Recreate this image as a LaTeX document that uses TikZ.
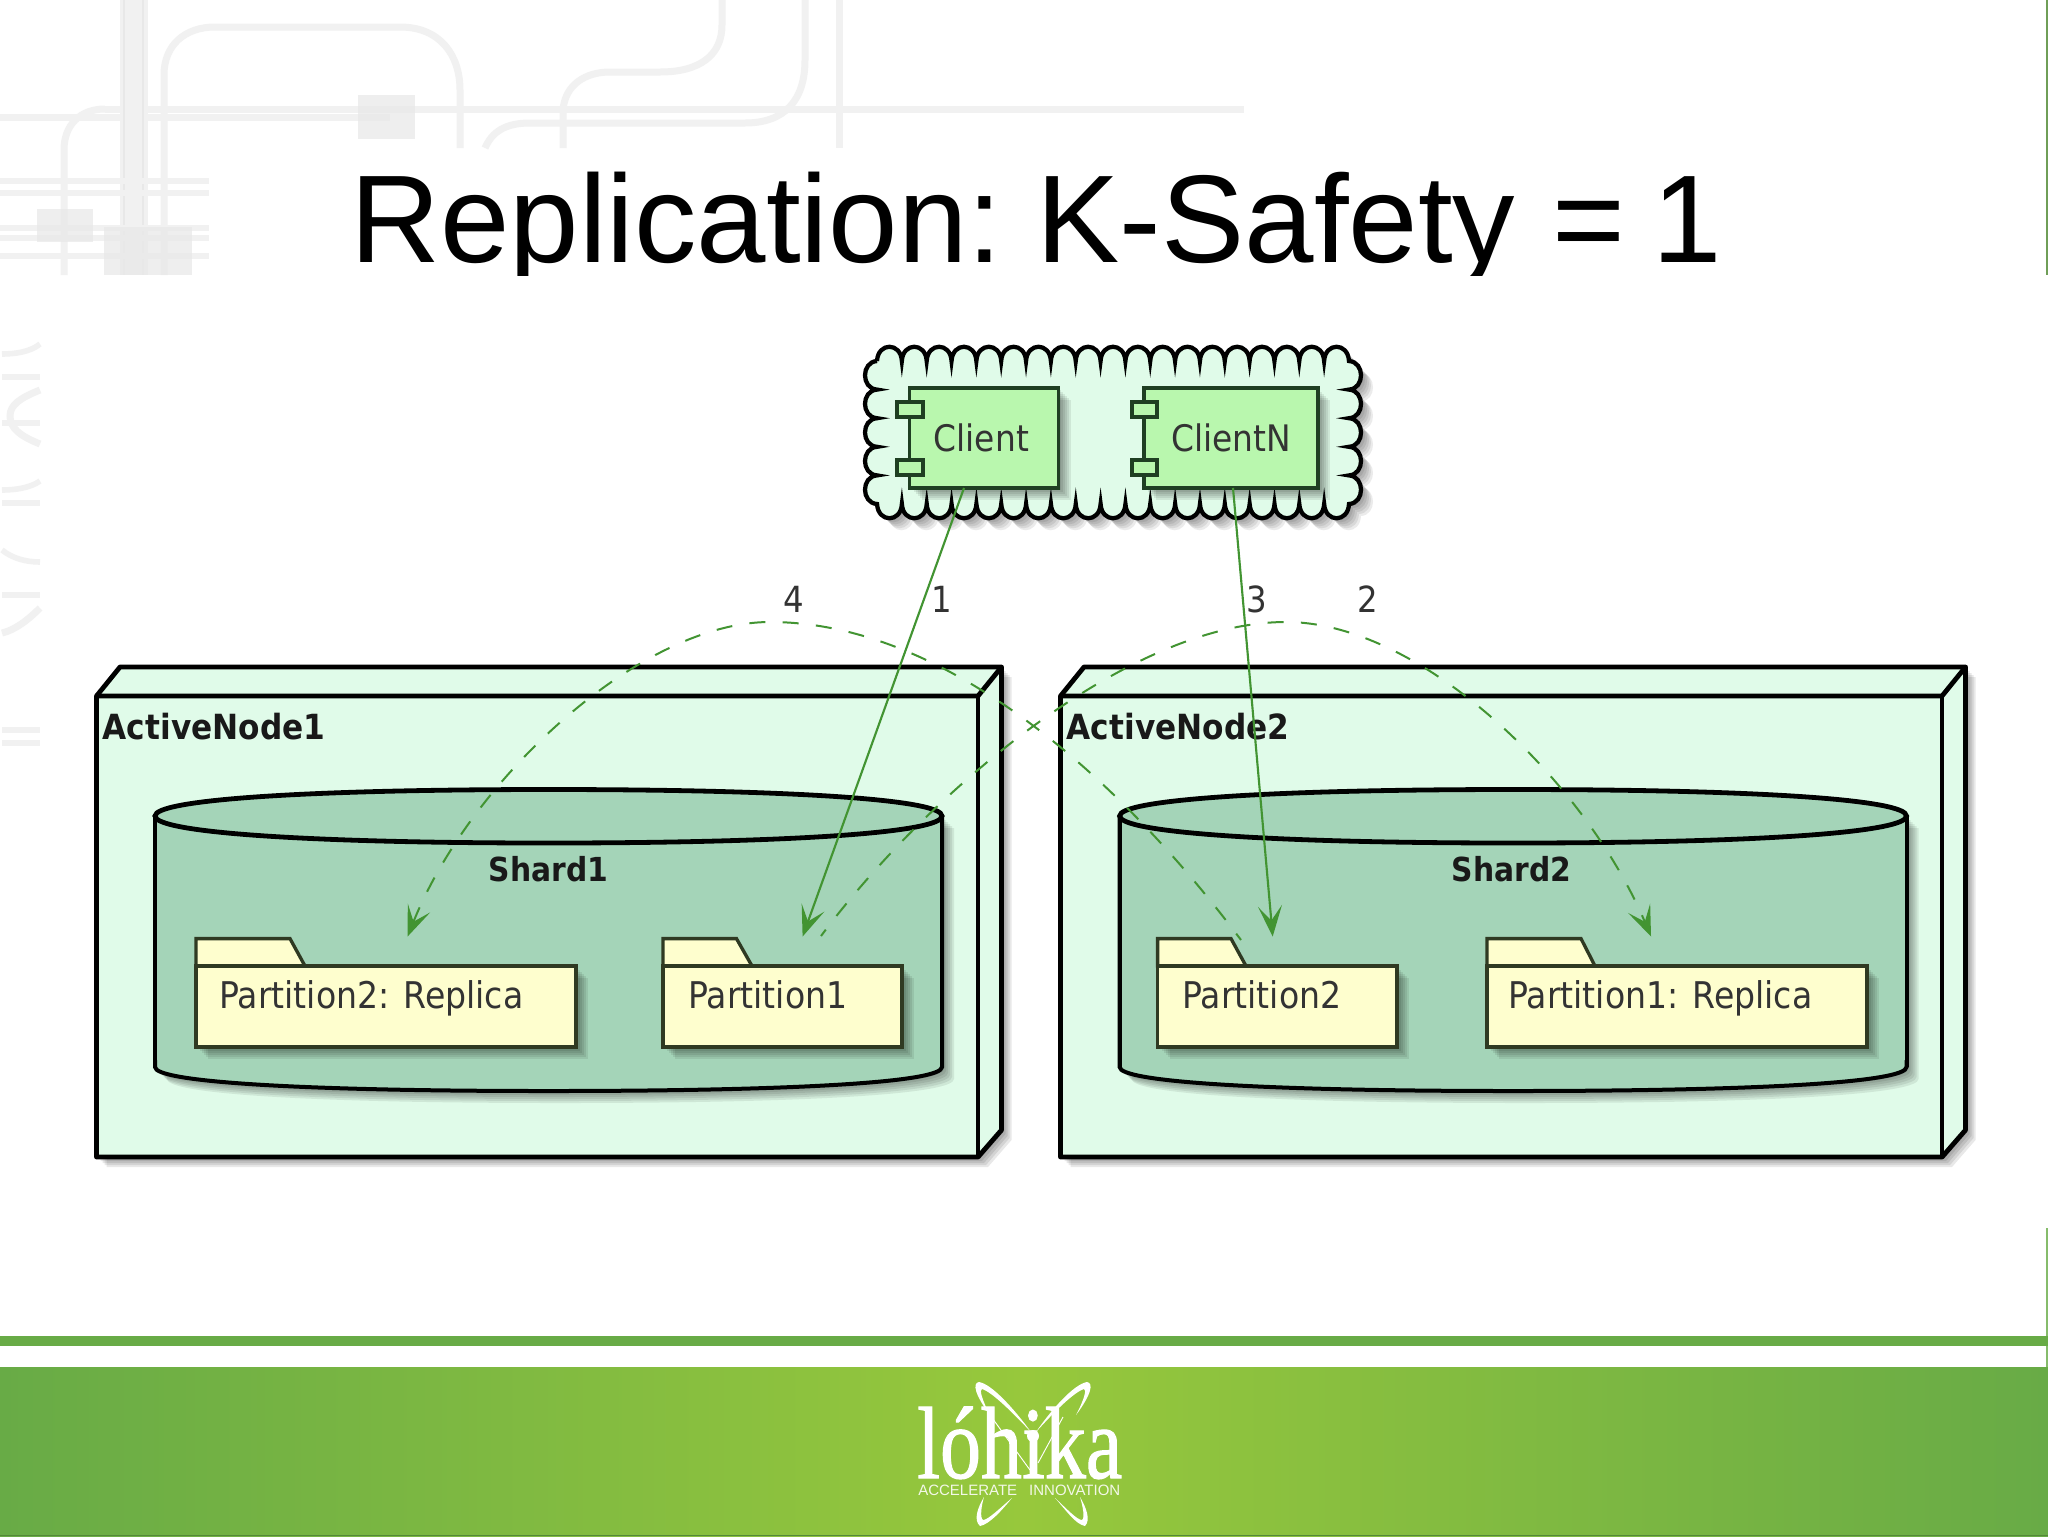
\documentclass[tikz,border=0pt]{standalone}
\usepackage{fontspec}
\usetikzlibrary{arrows.meta}
\setmainfont{Liberation Sans}
\newfontfamily\umlf[FakeStretch=0.9]{DejaVu Sans}
\newfontfamily\logof[FakeBold=1.2]{Liberation Serif}
\definecolor{wm}{HTML}{F1F1F1}
\definecolor{wmd}{HTML}{E8E8E8}
\definecolor{nodef}{HTML}{E0FBE9}
\definecolor{cylf}{HTML}{A4D4B8}
\definecolor{foldf}{HTML}{FEFECE}
\definecolor{folds}{HTML}{2F3A22}
\definecolor{compf}{HTML}{B9F7AE}
\definecolor{comps}{HTML}{1F3F22}
\definecolor{arrowc}{HTML}{429432}
\definecolor{bandl}{HTML}{68AB46}
\definecolor{bandm}{HTML}{97C83C}
\tikzset{
  wml/.style={draw=wm,line width=5.25pt},
  wmt/.style={draw=wm,line width=4.2pt},
  wmb/.style={fill=wmd,opacity=.7},
  box3d/.style={draw=black,fill=nodef,line width=3.6pt,line join=round},
  cyl/.style={draw=black,fill=cylf,line width=3pt},
  fold/.style={draw=folds,fill=foldf,line width=2.5pt,line join=miter},
  compbox/.style={draw=comps,fill=compf,line width=2.6pt,minimum width=111.75pt,minimum height=75pt,inner sep=0pt},
  compboxn/.style={compbox,minimum width=130.5pt},
  port/.style={draw=comps,fill=compf,line width=2.5pt},
  umlt/.style={inner sep=0pt,anchor=base west,text=black!80,font=\umlf\fontsize{27.6}{30}\selectfont},
  umlb/.style={inner sep=0pt,text=black!90,font=\umlf\bfseries\fontsize{24.8}{28}\selectfont},
  numl/.style={inner sep=0pt,text=black!80,font=\umlf\fontsize{27}{30}\selectfont},
  conn/.style={draw=arrowc,line width=1.6pt,-{Stealth[length=23pt,width=18pt,inset=11pt]}},
  dconn/.style={conn,line width=1.5pt,dash pattern=on 12pt off 13pt,dash phase=6pt}
}
\newcommand\shad[1]{\foreach \s in {2,4,6,8,10,12}{\fill[black,opacity=.08,shift={(\s,\s)}] #1;}}
\def\cloudp{(877,361)
 \foreach \i in {1,...,19}{ .. controls ({877+(\i-1)*24.84+1},342) and ({877+\i*24.84-1},342) .. ({877+\i*24.84},361)}
 \foreach \i in {1,...,5}{ .. controls (1365,{361+(\i-1)*28.6+1}) and (1365,{361+\i*28.6-1}) .. (1349,{361+\i*28.6})}
 \foreach \i in {1,...,19}{ .. controls ({1349-(\i-1)*24.84-1},523) and ({1349-\i*24.84+1},523) .. ({1349-\i*24.84},504)}
 \foreach \i in {1,...,5}{ .. controls (861,{504-(\i-1)*28.6-1}) and (861,{504-\i*28.6+1}) .. (877,{504-\i*28.6})}
 -- cycle}
\begin{document}
\begin{tikzpicture}[x=0.75pt,y=-0.75pt]
\useasboundingbox (0,0) rectangle (2048,1536);
\fill[white] (0,0) rectangle (2048,1536);

% watermark
\draw[wml] (0,117) -- (390,117);
\draw[wml] (105,109) -- (1244,109);
\fill[wm] (120,0) rectangle (148,275);
\draw[wmd,line width=1.5pt] (124,0) -- (124,275);
\draw[wmd,line width=1.5pt] (143,0) -- (143,275);
\draw[wml] (164,275) -- (164,75) .. controls (164,45) and (185,27) .. (215,27) -- (400,27) .. controls (440,27) and (460,55) .. (460,90) -- (460,148);
\draw[wml] (64,275) -- (64,150) .. controls (64,125) and (80,109) .. (105,109);
\draw[wml] (485,148) .. controls (492,132) and (505,123) .. (530,123) -- (745,123) .. controls (785,123) and (805,100) .. (805,60) -- (805,0);
\draw[wml] (563,148) -- (563,110) .. controls (565,85) and (585,72) .. (610,72) -- (660,72) .. controls (700,72) and (722,55) .. (722,25) -- (722,0);
\draw[wml] (839,0) -- (839,148);
\fill[wmb] (358,95) rectangle (415,139);
\foreach \yy in {181,193,228,238,256}{\draw[wmt] (0,\yy) -- (209,\yy);}
\fill[wmb] (37,209) rectangle (93,242);
\fill[wmb] (104,227) rectangle (192,275);
% left watermark
\draw[wmt] (2,354) .. controls (15,354) and (30,352) .. (40,344);
\draw[wmt] (2,377) -- (40,377);
\draw[wml] (40,390) .. controls (20,398) and (10,405) .. (10,416) .. controls (10,428) and (20,436) .. (40,444);
\draw[wmt] (2,423) -- (40,423);
\draw[wmt] (2,490) .. controls (15,490) and (30,488) .. (40,481);
\draw[wmt] (2,503) -- (40,503);
\draw[wmt] (2,550) .. controls (12,558) and (25,562) .. (40,562);
\draw[wmt] (2,595) -- (40,595);
\draw[wml] (2,633) .. controls (15,630) and (28,620) .. (40,608);
\draw[wmt] (2,730) -- (40,730);
\draw[wmt] (2,743) -- (40,743);

% title
\begin{scope}
\clip (0,0) rectangle (2048,275);
\node[inner sep=0pt,anchor=base,font=\fontsize{93.6}{100}\selectfont] (title) at (1036,262) {Replication:\hspace{26pt}K-Safety\hspace{28pt}=\hspace{20pt}1};
\end{scope}

% right edge
\draw[draw=bandl!70!gray,line width=.9pt] (2047,0) -- (2047,275);
\draw[draw=bandl!80,line width=.9pt] (2047,1228) -- (2047,1536);

% band
\fill[bandl] (0,1336) rectangle (2048,1346);
\shade[left color=bandl,right color=bandm,shading angle=90] (0,1367) rectangle (1024,1536);
\shade[left color=bandm,right color=bandl,shading angle=90] (1024,1367) rectangle (2048,1536);
\draw[draw=bandl!80!black,line width=.75pt] (0,1535.5) -- (2048,1535.5);

% logo
\fill[white] (990,1415) .. controls (975,1395) and (972,1383) .. (979,1382) .. controls (992,1384) and (1015,1410) .. (1031,1432) .. controls (1012,1412) and (992,1392) .. (982,1389) .. controls (979,1389) and (982,1400) .. cycle;
\fill[white] (1076,1415) .. controls (1091,1395) and (1094,1383) .. (1087,1382) .. controls (1074,1384) and (1051,1410) .. (1036,1432) .. controls (1054,1412) and (1074,1392) .. (1084,1389) .. controls (1087,1389) and (1084,1400) .. cycle;
\draw[white,line width=.7pt] (990,1415) -- (1030,1470);
\draw[white,line width=.7pt] (1038,1463) -- (1063,1417);
\fill[white] (984,1497) .. controls (978,1507) and (973,1520) .. (980,1526) .. controls (990,1524) and (1002,1510) .. (1012,1498) .. controls (1000,1508) and (988,1520) .. (983,1520) .. controls (980,1518) and (981,1507) .. cycle;
\fill[white] (1080,1497) .. controls (1086,1507) and (1091,1520) .. (1085,1526) .. controls (1075,1524) and (1066,1510) .. (1055,1498) .. controls (1066,1508) and (1077,1520) .. (1082,1520) .. controls (1085,1518) and (1083,1507) .. cycle;
\node[inner sep=0pt,anchor=base west,text=white,font=\logof\fontsize{61.5}{66}\selectfont] (logo) at (917,1478) {\scalebox{1}[1.25]{lóhika}};
\fill[white] (1033,1436) circle[radius=6];
\node[inner sep=0pt,anchor=base west,text=white!88!bandm,font=\fontsize{11.25}{13}\selectfont] (tagline) at (918,1495) {ACCELERATE\hspace{9pt}INNOVATION};

% cloud and clients
\shad{\cloudp}
\draw[draw=black,fill=nodef,line width=3.2pt] \cloudp;
\shad{(909.6,388) rectangle (1058.6,488)}
\shad{(1144,388) rectangle (1318,488)}
\node[compbox,font=\umlf\fontsize{27.4}{30}\selectfont] (client) at (984,438) {\hspace*{-4pt}\textcolor{black!80}{Client}};
\node[compboxn,font=\umlf\fontsize{27.4}{30}\selectfont] (clientn) at (1231,438) {\textcolor{black!80}{ClientN}};
\draw[port] (897,402) rectangle (923,417);
\draw[port] (897,460) rectangle (923,475);
\draw[port] (1132,402) rectangle (1157,417);
\draw[port] (1132,460) rectangle (1157,475);

% active nodes
\foreach \ox/\nm/\lb in {0/a/1,964/b/2}{
  \begin{scope}[xshift=\ox*0.75pt]
    \foreach \s in {2,4,6,8,10}{\fill[black,opacity=.09,shift={(\s,\s)}] (96.5,696) -- (120,667) -- (1001.5,667) -- (1001.5,1130) -- (978,1157) -- (96.5,1157) -- cycle;}
    \draw[box3d] (96.5,696) -- (120,667) -- (1001.5,667) -- (1001.5,1130) -- (978,1157) -- (96.5,1157) -- cycle;
    \draw[box3d,fill=none] (96.5,696) -- (978,696) -- (1001.5,667);
    \draw[box3d,fill=none] (978,696) -- (978,1157);
    \node[umlb,anchor=base west,font=\umlf\bfseries\fontsize{26}{28}\selectfont] (activenode\lb) at (102.5,739) {ActiveNode\lb};
  \end{scope}
}

% cylinders
\foreach \ox/\cl/\cr/\lb/\sx in {0/155/942/1/548.5,964/155.6/942.5/2/547.5}{
  \begin{scope}[xshift=\ox*0.75pt]
    \shad{(\cl,816) -- (\cl,1067) .. controls (\cl,1082) and (300,1091) .. ({(\cl+\cr)/2},1091) .. controls (800,1091) and (\cr,1082) .. (\cr,1067) -- (\cr,816) -- cycle}
    \draw[cyl] (\cl,816) -- (\cl,1067) .. controls (\cl,1082) and (300,1091) .. ({(\cl+\cr)/2},1091) .. controls (800,1091) and (\cr,1082) .. (\cr,1067) -- (\cr,816);
    \fill[cylf] (\cl,816) .. controls (\cl,800) and (300,789.5) .. ({(\cl+\cr)/2},789.5) .. controls (800,789.5) and (\cr,800) .. (\cr,816) -- (\cr,1060) -- (\cl,1060) -- cycle;
    \draw[cyl,line width=3.6pt] (\cl,816) .. controls (\cl,800) and (300,789.5) .. ({(\cl+\cr)/2},789.5) .. controls (800,789.5) and (\cr,800) .. (\cr,816) .. controls (\cr,832) and (800,843) .. ({(\cl+\cr)/2},843) .. controls (300,843) and (\cl,832) .. (\cl,816) -- cycle;
    \draw[line width=3pt] (\cl,816) -- (\cl,1067);
    \draw[line width=3pt] (\cr,816) -- (\cr,1067);
    \node[umlb] (shard\lb) at (\sx,869) {Shard\lb};
  \end{scope}
}

% folders
\foreach \l/\r/\ta/\tb/\tx/\txt/\nm in {196/576/290/305/219/Partition2: Replica/pa,663/902/736.5/752/688/Partition1/pb,1157.6/1397/1231/1246/1182/Partition2/pc,1487/1867/1581/1595/1508/Partition1: Replica/pd}{
  \shad{(\l,966) rectangle (\r,1047)}
  \draw[fold] (\l,966) -- (\l,938.6) -- (\ta,938.6) -- (\tb,966) -- cycle;
  \draw[fold] (\l,966) rectangle (\r,1047);
  \node[umlt] (\nm) at (\tx,1008) {\txt};
}

% connectors
\coordinate (c1) at (964,488);
\coordinate (c3) at (1233,488);
\coordinate (p1in) at (802.6,936.5);
\coordinate (p2in) at (1272.7,936.5);
\coordinate (r2in) at (407.6,936.5);
\coordinate (r1in) at (1651,936.5);
\coordinate (p2out) at (1241,940);
\coordinate (p1out) at (821,936);
\coordinate (peak4) at (770,622);
\coordinate (peak2) at (1286,622);
\draw[dconn] (p2out) .. controls (1125,785) and (950,622) .. (peak4) .. controls (640,622) and (470,780) .. (r2in);
\draw[dconn] (p1out) .. controls (930,790) and (1130,622) .. (peak2) .. controls (1420,622) and (1585,780) .. (r1in);
\draw[conn] (c1) -- (p1in);
\draw[conn] (c3) -- (p2in);
\node[numl] (n1) at (942,599) {1};
\node[numl] (n3) at (1257,599) {3};
\node[numl] (n2) at (1368,599) {2};
\node[numl] (n4) at (794,599) {4};
\end{tikzpicture}
\end{document}
